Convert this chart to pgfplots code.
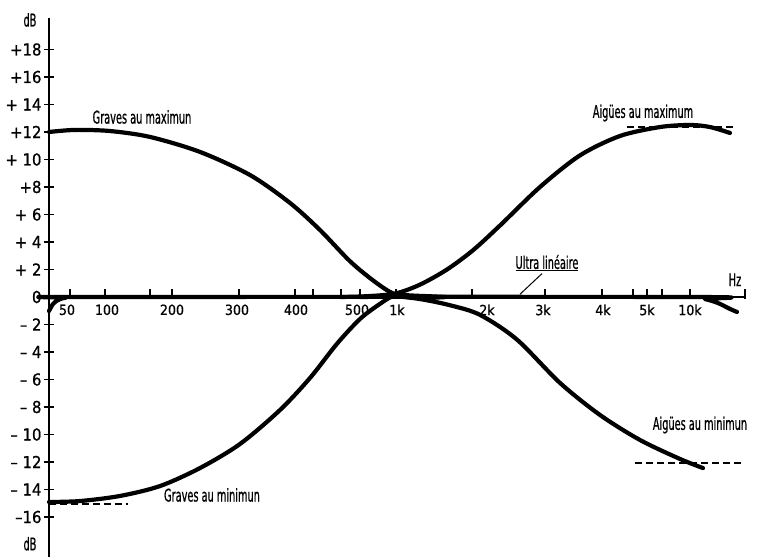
\documentclass[border=0pt]{standalone}
\usepackage{fontspec}
\setmainfont{DejaVu Sans Condensed}
\newfontfamily\lab{DejaVu Sans Condensed}[FakeStretch=0.62, FakeBold=0.7]
\newfontfamily\num{DejaVu Sans Condensed}[FakeBold=0.8]
\usepackage{pgfplots}
\pgfplotsset{compat=1.18}

% Tone-control response: horizontal axis is a drawn (non-logarithmic) frequency
% scale, vertical axis in dB (1 unit = 1 dB).
\begin{document}
\begin{tikzpicture}
\begin{axis}[
  scale only axis,
  width=696pt, height=539pt,
  xmin=0, xmax=696, ymin=-18.91, ymax=20.29,
  axis lines=middle,
  axis line style={-, line width=1.6pt},
  clip=false,
  hide obscured x ticks=false,
  hide obscured y ticks=false,
  xtick={21,56,101,123,190,246,264,292,311,347,423,496,553,584,598,613,641,696},
  xticklabels={},
  x tick style={line width=1.3pt, black, yshift=2.5pt},
  extra x ticks={18,58,123,188,247,308,348,438,494,554,598,641,701},
  extra x tick labels={50,100,200,300,400,500,1k,2k,3k,4k,5k,10k,20k},
  extra x tick style={major tick length=0pt,
    xticklabel style={font=\num\fontsize{14}{14}\selectfont, yshift=-4pt}},
  ytick={-16,-14,-12,-10,-8,-6,-4,-2,0,2,4,6,8,10,12,14,16,18},
  yticklabels={–16,– 14,– 12,– 10,– 8,– 6,– 4,– 2,0,+ 2,+ 4,+ 6,+8,+ 10,+12,+ 14,+16,+18},
  y tick style={line width=1.3pt, black},
  major tick length=10pt,
  yticklabel style={font=\num\fontsize{16.5}{16.5}\selectfont, xshift=1pt},
  every axis plot/.append style={black, line width=4.2pt, line cap=round, line join=round},
]
% Graves au maximum
\addplot[smooth, tension=0.5] coordinates {
  (0,12.0) (26,12.15) (61,12.07) (101,11.64) (151,10.55) (201,8.87)
  (241,6.84) (271,4.87) (301,2.6) (326,1.1) (346,0.2) (371,-0.08) (396,0)
};
% Graves au minimum
\addplot[smooth, tension=0.5] coordinates {
  (0,-14.91) (31,-14.84) (71,-14.47) (111,-13.75) (151,-12.44) (191,-10.69)
  (231,-8.22) (261,-5.89) (288,-3.4) (311,-1.6) (331,-0.5) (346,0.1) (371,0.08) (396,0)
};
% Aigues au maximum
\addplot[smooth, tension=0.5] coordinates {
  (291,0) (316,0.05) (346,0.25) (371,0.9) (398,2.0) (424,3.4) (451,5.2)
  (491,8.0) (531,10.3) (571,11.71) (611,12.36) (641,12.51) (661,12.36) (681,11.93)
};
% Aigues au minimum
\addplot[smooth, tension=0.5] coordinates {
  (311,0) (331,0.02) (346,0.05) (371,-0.15) (401,-0.6) (431,-1.3) (468,-3.1)
  (511,-6.25) (551,-8.58) (591,-10.4) (631,-11.78) (654,-12.44)
};
% Ultra lineaire
\addplot[smooth, tension=0.5] coordinates {
  (0,-1.02) (4,-0.51) (9,-0.22) (17,-0.04) (31,0) (641,0) (656,-0.15)
  (669,-0.44) (681,-0.87) (688,-1.09)
};
% asymptotes
\addplot[line width=1.4pt, dash pattern=on 7pt off 4pt, line cap=butt] coordinates {(0,-15.05) (79,-15.05)};
\addplot[line width=1.4pt, dash pattern=on 7pt off 4pt, line cap=butt] coordinates {(578,12.36) (684,12.36)};
\addplot[line width=1.4pt, dash pattern=on 7pt off 4pt, line cap=butt] coordinates {(586,-12.07) (694,-12.07)};

\begin{scope}[font=\lab\fontsize{17.5}{17.5}\selectfont]
\node at (axis cs:-19,20.15) {dB};
\node at (axis cs:-19,-17.95) {dB};
\node at (axis cs:686,1.25) {Hz};
\node at (axis cs:93,13.09) {Graves au maximun};
\node at (axis cs:163,-14.4) {Graves au minimun};
\node at (axis cs:594,13.38) {Aigües au maximum};
\node at (axis cs:651,-9.31) {Aigües au minimun};
\node at (axis cs:498,2.47) {\underline{Ultra linéaire}};
\draw[line width=1pt] (axis cs:493,1.7) -- (axis cs:471,0.2);
\end{scope}
\coordinate (bbl) at (axis cs:-49,-18.91);
\coordinate (btr) at (axis cs:720,21.6);
\end{axis}
\pgfresetboundingbox
\path[use as bounding box] (bbl) rectangle (btr);
\end{tikzpicture}
\end{document}
